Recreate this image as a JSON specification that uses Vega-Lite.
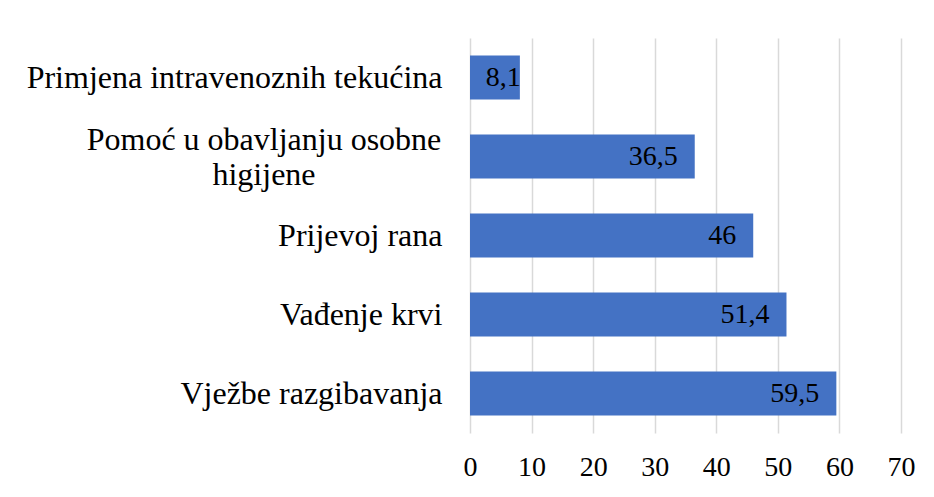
{
  "$schema": "https://vega.github.io/schema/vega-lite/v6.json",
  "width": 431,
  "height": 395,
  "padding": {"left": 470, "top": 38, "right": 33, "bottom": 64},
  "autosize": {"type": "none"},
  "background": "white",
  "config": {
    "view": {"stroke": null},
    "font": "'Liberation Serif', 'Times New Roman', Times, serif",
    "locale": {"number": {"decimal": ",", "thousands": ".", "grouping": [3], "currency": ["", " €"]}}
  },
  "data": {"values": [
    {"category": "Primjena intravenoznih tekućina", "value": 8.1},
    {"category": "Pomoć u obavljanju osobne higijene", "value": 36.5},
    {"category": "Prijevoj rana", "value": 46},
    {"category": "Vađenje krvi", "value": 51.4},
    {"category": "Vježbe razgibavanja", "value": 59.5}
  ]},
  "encoding": {
    "y": {
      "field": "category", "type": "nominal", "sort": null,
      "scale": {"paddingInner": 0.44, "paddingOuter": 0.22},
      "axis": {
        "title": null, "domain": false, "ticks": false, "grid": false,
        "values": ["Primjena intravenoznih tekućina", "Prijevoj rana", "Vađenje krvi", "Vježbe razgibavanja"],
        "labelFont": "'Liberation Serif', 'Times New Roman', Times, serif", "labelFontSize": 32, "labelColor": "#000000",
        "labelPadding": 28, "labelLimit": 500
      }
    },
    "x": {
      "field": "value", "type": "quantitative",
      "scale": {"domain": [0, 70], "nice": false},
      "axis": {
        "title": null, "domain": false, "ticks": false, "values": [0, 10, 20, 30, 40, 50, 60, 70],
        "grid": true, "gridColor": "#d9d9d9", "gridWidth": 1.5, "labelFlush": false,
        "labelFont": "'Liberation Serif', 'Times New Roman', Times, serif", "labelFontSize": 28, "labelColor": "#000000",
        "labelPadding": 20, "format": "d"
      }
    }
  },
  "layer": [
    {"mark": {"type": "bar", "color": "#4472C4"}},
    {
      "transform": [{"filter": "datum.value >= 20"}],
      "mark": {"type": "text", "align": "right", "baseline": "middle", "dx": -17, "fontSize": 28, "font": "'Liberation Serif', 'Times New Roman', Times, serif", "color": "#000000"},
      "encoding": {"text": {"field": "value", "type": "quantitative", "format": ".1~f"}}
    },
    {
      "transform": [{"filter": "datum.value < 20"}],
      "mark": {"type": "text", "align": "right", "baseline": "middle", "dx": 1, "fontSize": 28, "font": "'Liberation Serif', 'Times New Roman', Times, serif", "color": "#000000"},
      "encoding": {"text": {"field": "value", "type": "quantitative", "format": ".1~f"}}
    },
    {
      "transform": [{"filter": "datum.category == 'Pomoć u obavljanju osobne higijene'"}],
      "mark": {"type": "text", "align": "center", "baseline": "middle", "dx": -206, "dy": -17, "fontSize": 32, "lineHeight": 35, "font": "'Liberation Serif', 'Times New Roman', Times, serif", "color": "#000000"},
      "encoding": {
        "x": {"datum": 0},
        "text": {"value": ["Pomoć u obavljanju osobne", "higijene"]}
      }
    }
  ]
}
